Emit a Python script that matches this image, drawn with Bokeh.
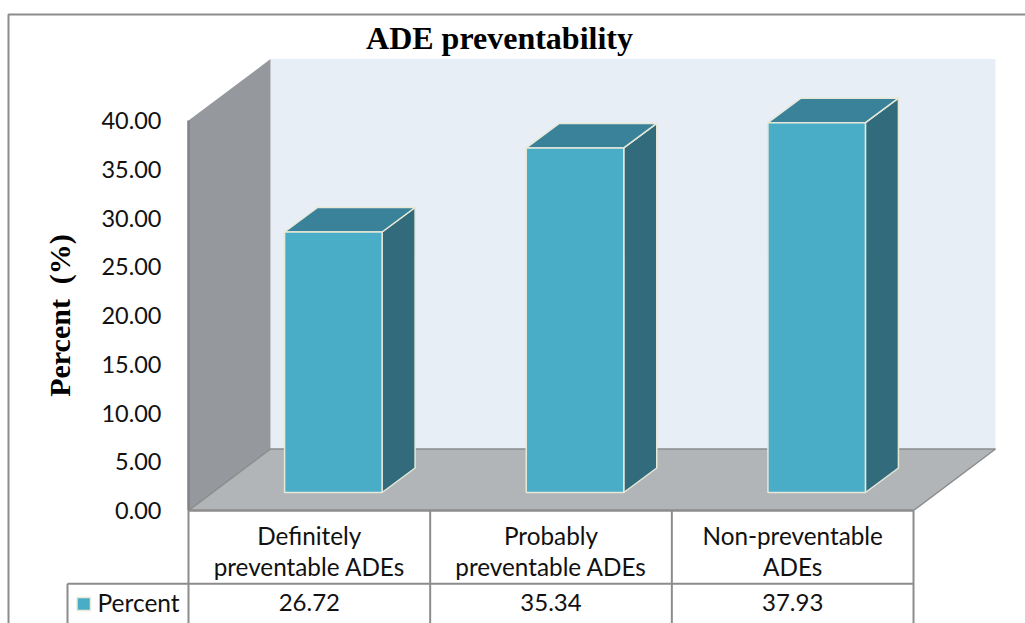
from bokeh.core.properties import value
from bokeh.embed import file_html
from bokeh.models import FixedTicker, NumeralTickFormatter, Range1d
from bokeh.plotting import figure
from bokeh.resources import INLINE

# Chart content
title_text = "ADE preventability"
y_title = "Percent \u00a0(%)"
categories = ["Definitely\npreventable ADEs", "Probably\npreventable ADEs", "Non-preventable\nADEs"]
series_name = "Percent"
percent = [26.72, 35.34, 37.93]
y_ticks = [0, 5, 10, 15, 20, 25, 30, 35, 40]

W, H = 1025, 623
LEFT, CAT_PX = 188.0, 241.67   # x pixel of the first category, pixels per category
ZERO, UNIT_PX = 510.0, 9.75    # y pixel of value 0, pixels per percent


def xd(px):
    return (px - LEFT) / CAT_PX


def yd(py):
    return (ZERO - py) / UNIT_PX


p = figure(width=W, height=H, output_backend="svg", toolbar_location=None,
           x_range=Range1d(xd(0), xd(W)), y_range=Range1d(yd(H), yd(0)),
           min_border=0, min_border_left=0, min_border_right=0,
           min_border_top=0, min_border_bottom=0,
           background_fill_color="white", border_fill_color="white",
           outline_line_color=None)
p.grid.visible = False
p.xaxis.visible = False

GRAY = "#8c8c8c"
SANS = value("Lato")
SERIF = value("Liberation Serif")

# Depth of the 3D box, and the offset of a bar inside it
WALL_DX, WALL_DY = 82 / CAT_PX, 61.5 / UNIT_PX
BAR_X, BAR_Y = 24 / CAT_PX, 18 / UNIT_PX
BAR_DX, BAR_DY = 33 / CAT_PX, 24.5 / UNIT_PX
BAR_W = 97.5 / CAT_PX
top = y_ticks[-1]
n = len(categories)

# Back wall, side wall and floor
p.patch([WALL_DX, n + WALL_DX, n + WALL_DX, WALL_DX],
        [WALL_DY, WALL_DY, top + WALL_DY, top + WALL_DY],
        fill_color="#e8eef5", line_color=None)
p.patch([0, WALL_DX, WALL_DX, 0], [0, WALL_DY, top + WALL_DY, top],
        fill_color="#95989c", line_color=None)
p.patch([0, n, n + WALL_DX, WALL_DX], [0, 0, WALL_DY, WALL_DY],
        fill_color="#b1b5b8", line_color=None)
p.line([0, WALL_DX, n + WALL_DX, n], [0, WALL_DY, WALL_DY, 0], line_color=GRAY, line_width=1.5)
p.line([0, 0], [0, top], line_color="#808285", line_width=2.5)

# Bars: side, top and front faces
lefts = [i + 0.5 + BAR_X - BAR_W / 2 for i in range(n)]
rights = [l + BAR_W for l in lefts]
EDGE = "#e6e8d8"
p.patches([[r, r + BAR_DX, r + BAR_DX, r] for r in rights],
          [[BAR_Y, BAR_Y + BAR_DY, BAR_Y + BAR_DY + v, BAR_Y + v] for v in percent],
          fill_color="#316b7c", line_color=EDGE, line_width=1.5)
p.patches([[l, r, r + BAR_DX, l + BAR_DX] for l, r in zip(lefts, rights)],
          [[BAR_Y + v, BAR_Y + v, BAR_Y + v + BAR_DY, BAR_Y + v + BAR_DY] for v in percent],
          fill_color="#3a8299", line_color=EDGE, line_width=1.5)
p.quad(left=lefts, right=rights, bottom=[BAR_Y] * n, top=[BAR_Y + v for v in percent],
       fill_color="#4aadc8", line_color=EDGE, line_width=1.5)

# Outer border of the chart area, open towards the window edges
p.line([xd(8), xd(8), xd(W)], [yd(H), yd(14), yd(14)], line_color=GRAY, line_width=2)

# Data table under the plot
row_y = yd(583.3)
bottom = yd(H)
p.line([0, n], [0, 0], line_color=GRAY, line_width=2.5)
p.line([xd(67), n], [row_y, row_y], line_color=GRAY, line_width=2)
p.multi_line([[i, i] for i in range(n + 1)] + [[xd(67), xd(67)]],
             [[0, bottom]] * (n + 1) + [[row_y, bottom]],
             line_color=GRAY, line_width=2)

for i, cat in enumerate(categories):
    for line, py in zip(cat.split("\n"), (534.5, 565.5)):
        p.text([i + 0.5], [yd(py)], text=[line], text_font=SANS, text_font_size="24.3px",
               text_align="center", text_baseline="middle", text_color="#111111")
p.text([i + 0.5 for i in range(n)], [yd(602)] * n, text=[f"{v:.2f}" for v in percent],
       text_font=SANS, text_font_size="24px", text_align="center",
       text_baseline="middle", text_color="#111111")

# Legend key in the table
p.quad(left=[xd(76.5)], right=[xd(90)], bottom=[yd(610)], top=[yd(597)],
       fill_color="#4aadc8", line_color="#ecead8", line_width=1.5)
p.text([xd(97)], [yd(602)], text=[series_name], text_font=SANS, text_font_size="24.5px",
       text_align="left", text_baseline="middle", text_color="#111111")

p.text([xd(499)], [yd(37)], text=[title_text], text_font=SERIF, text_font_style="bold",
       text_font_size="32px", text_align="center", text_baseline="middle", text_color="black")

# Value axis placed at the front edge of the side wall
axis = p.yaxis[0]
axis.fixed_location = 0
axis.ticker = FixedTicker(ticks=y_ticks)
axis.formatter = NumeralTickFormatter(format="0.00")
axis.axis_line_color = None
axis.major_tick_line_color = None
axis.minor_tick_line_color = None
axis.major_label_standoff = 21
axis.major_label_text_font = "Lato"
axis.major_label_text_font_size = "23.5px"
axis.major_label_text_color = "#111111"
axis.axis_label = None

p.text([xd(59)], [yd(315)], text=[y_title], text_font=SERIF, text_font_style="bold",
       text_font_size="30px", text_align="center", text_baseline="middle", angle=1.5708,
       text_color="black")

open("out.html", "w").write(file_html(p, INLINE))
